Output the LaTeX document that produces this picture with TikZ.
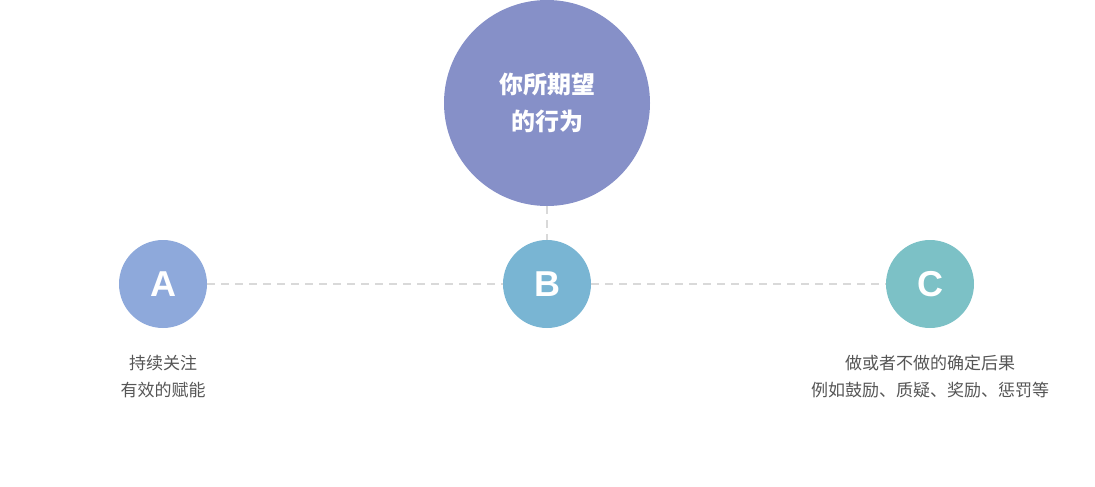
\documentclass[tikz,border=0pt]{standalone}
\usepackage{fontspec}
\setmainfont{Liberation Sans}
\newfontfamily\cjk{Noto Sans CJK SC}
\definecolor{goalc}{HTML}{8690C8}
\definecolor{ac}{HTML}{8EA9DB}
\definecolor{bc}{HTML}{79B5D3}
\definecolor{cc}{HTML}{7CC1C6}
\definecolor{txt}{HTML}{555555}
\definecolor{dashc}{HTML}{D9D9D9}
\begin{document}
\begin{tikzpicture}[x=1pt,y=-1pt,
  goal/.style={circle, fill=goalc, minimum size=206pt, inner sep=0pt, text=white, align=center, font=\cjk\bfseries\fontsize{24}{37}\selectfont},
  letter/.style={circle, minimum size=88pt, inner sep=0pt, text=white, font=\bfseries\fontsize{36}{36}\selectfont},
  note/.style={text=txt, align=center, font=\cjk\fontsize{17}{27}\selectfont},
  link/.style={dashc, line width=2pt, dash pattern=on 8pt off 6pt}]
	\useasboundingbox (0,0) rectangle (1095,487);
	% nodes
	\node[goal] (goal) at (547,103) {你所期望\\的行为};
	\node[letter, fill=ac] (a) at (163,284) {A};
	\node[letter, fill=bc] (b) at (547,284) {B};
	\node[letter, fill=cc] (c) at (930,284) {C};
	\node[note] (anote) at (163,377) {持续关注\\有效的赋能};
	\node[note] (cnote) at (930,377) {做或者不做的确定后果\\例如鼓励、质疑、奖励、惩罚等};

	% edges
	\draw[link] (a) -- (b);
	\draw[link] (b) -- (c);
	\draw[link] (goal) -- (b);
\end{tikzpicture}
\end{document}
